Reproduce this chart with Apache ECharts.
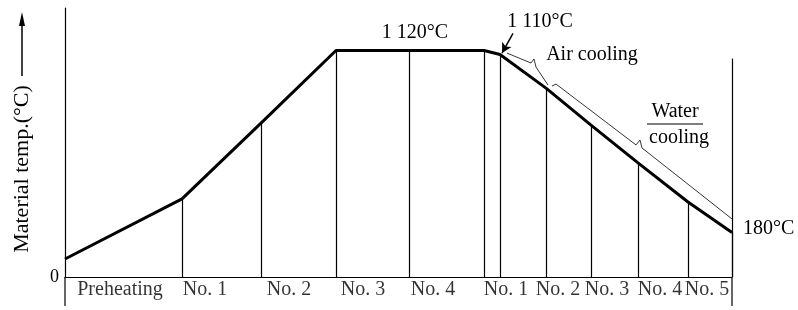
<!DOCTYPE html>
<html>
<head>
<meta charset="utf-8">
<script src="https://cdn.jsdelivr.net/npm/echarts@6/dist/echarts.min.js"></script>
<style>
  html, body { margin: 0; padding: 0; background: #fff; }
  #chart { width: 798px; height: 310px; }
</style>
</head>
<body>
<div id="chart"></div>
<script>
// positions along the line (arbitrary length units) and material temperature
var positions = [0, 117, 196, 271, 344, 419, 435, 481, 526, 573, 623, 667]
var temps = [89, 386, 761, 1120, 1120, 1120, 1100, 934, 751, 564, 371, 220]
// right end of the line, boundary line is taller than the curve
var endLine = [667, 1080]

// zone names and where their labels sit
var zoneNames = ['Preheating', 'No. 1', 'No. 2', 'No. 3', 'No. 4', 'No. 1', 'No. 2', 'No. 3', 'No. 4', 'No. 5']
var zoneLabelPos = [55, 140, 224, 298, 368, 441, 493, 542, 595, 642]

// brace lines above the cooling part
var airBrace = [[442, 1107], [466, 1058], [469, 1078], [471, 1038], [483, 949]]
var waterBrace = [[487, 944], [491, 954], [571, 653], [575, 677], [577, 638], [667, 287]]

// arrow pointing at 1 110°C
var arrow1110 = [[448, 1205], [437, 1107]]

var FONT = 'Liberation Serif'

var lineData = positions.map(function(x, i) { return [x, temps[i]] })
// drop lines from the curve down to the axis
var drops = []
positions.forEach(function(x, i) {
	if (i == 0) return
	drops.push([{ coord: [x, 0] }, { coord: [x, temps[i]] }])
})
drops.push([{ coord: [endLine[0], 0] }, { coord: endLine }])

var labelData = zoneLabelPos.map(function(x, i) { return { value: [x, 0], name: zoneNames[i] } })

var myChart = echarts.init(document.getElementById('chart'))
var option = {
	animation: false,
	grid: { left: 65, right: 66, top: 8, bottom: 33 },
	xAxis: {
		type: 'value', min: 0, max: 667,
		axisLine: { show: true, lineStyle: { color: '#000', width: 1.2 } },
		axisTick: { show: false }, axisLabel: { show: false }, splitLine: { show: false }
	},
	yAxis: {
		type: 'value', min: 0, max: 1330, interval: 1330,
		axisLine: { show: true, lineStyle: { color: '#000', width: 1.2 } },
		axisTick: { show: false }, splitLine: { show: false },
		axisLabel: {
			fontFamily: FONT, fontSize: 18, color: '#000', margin: 6,
			formatter: function(v) { return v == 0 ? '0' : '' }
		}
	},
	series: [{
		type: 'line', data: lineData, symbol: 'none', silent: true,
		lineStyle: { color: '#000', width: 3 },
		markLine: {
			silent: true, symbol: 'none', label: { show: false },
			lineStyle: { color: '#000', width: 1.2, type: 'solid' },
			data: drops
		}
	}, {
		type: 'line', data: airBrace, symbol: 'none', silent: true,
		lineStyle: { color: '#000', width: 0.8 }
	}, {
		type: 'line', data: waterBrace, symbol: 'none', silent: true,
		lineStyle: { color: '#000', width: 0.8 },
		markLine: {
			silent: true, symbol: ['none', 'arrow'], symbolSize: [8, 10], label: { show: false },
			lineStyle: { color: '#000', width: 1.5, type: 'solid' },
			data: [[{ coord: arrow1110[0] }, { coord: arrow1110[1] }]]
		}
	}, {
		type: 'scatter', data: labelData, symbolSize: 0, silent: true,
		label: {
			show: true, position: 'bottom', distance: 3,
			formatter: '{b}', fontFamily: FONT, fontSize: 20, color: '#000'
		}
	}],
	graphic: [
		{ type: 'text', x: 22, y: 169, rotation: Math.PI / 2,
			style: { text: 'Material temp.(°C)', font: '22px "Liberation Serif"', fill: '#000', textAlign: 'center', textVerticalAlign: 'middle' } },
		{ type: 'line', shape: { x1: 22, y1: 76, x2: 22, y2: 20 }, style: { stroke: '#000', lineWidth: 1.5 } },
		{ type: 'polygon', shape: { points: [[22, 12], [19, 26], [25, 26]] }, style: { fill: '#000' } },
		// short extensions below the axis at both ends
		{ type: 'line', shape: { x1: 65, y1: 277, x2: 65, y2: 306 }, style: { stroke: '#000', lineWidth: 1.2 } },
		{ type: 'line', shape: { x1: 732, y1: 277, x2: 732, y2: 306 }, style: { stroke: '#000', lineWidth: 1.2 } },
		{ type: 'text', x: 415, y: 33, style: { text: '1 120°C', font: '20px "Liberation Serif"', fill: '#000', textAlign: 'center', textVerticalAlign: 'middle' } },
		{ type: 'text', x: 540, y: 22, style: { text: '1 110°C', font: '20px "Liberation Serif"', fill: '#000', textAlign: 'center', textVerticalAlign: 'middle' } },
		{ type: 'text', x: 592, y: 55, style: { text: 'Air cooling', font: '20px "Liberation Serif"', fill: '#000', textAlign: 'center', textVerticalAlign: 'middle' } },
		{ type: 'text', x: 675, y: 112, style: { text: 'Water', font: '20px "Liberation Serif"', fill: '#000', textAlign: 'center', textVerticalAlign: 'middle' } },
		{ type: 'line', shape: { x1: 647, y1: 124, x2: 703, y2: 124 }, style: { stroke: '#000', lineWidth: 1 } },
		{ type: 'text', x: 679, y: 138, style: { text: 'cooling', font: '20px "Liberation Serif"', fill: '#000', textAlign: 'center', textVerticalAlign: 'middle' } },
		{ type: 'text', x: 743, y: 229, style: { text: '180°C', font: '20px "Liberation Serif"', fill: '#000', textAlign: 'left', textVerticalAlign: 'middle' } }
	]
}
myChart.setOption(option)
</script>
</body>
</html>
